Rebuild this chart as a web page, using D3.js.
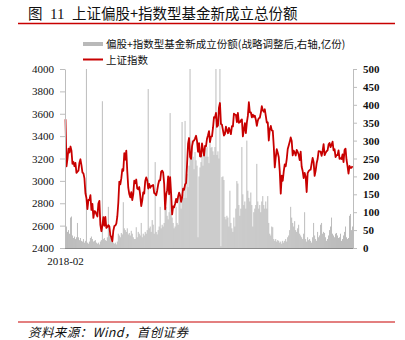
<!DOCTYPE html>
<html><head><meta charset="utf-8">
<script src="https://cdn.jsdelivr.net/npm/d3@7"></script>
<style>
html,body{margin:0;padding:0;background:#fff;}
svg{display:block;}
</style></head>
<body>
<svg id="c" width="405" height="340"></svg>
<script>
// ---- data ----
const startLabel = "2018-02";
const leftTicks = [2400, 2600, 2800, 3000, 3200, 3400, 3600, 3800, 4000];
const rightTicks = [0, 50, 100, 150, 200, 250, 300, 350, 400, 450, 500];
const seriesBarName = "偏股+指数型基金新成立份额(战略调整后,右轴,亿份)";
const seriesLineName = "上证指数";

const sh2018 = [3550,3130,3199,3289,3254,3307,3269,3152,3169,3131,3160,3071,3082,3091,3163,3193,3141,3075,3067,3022,2889,2847,2747,2831,2829,2873,2740,2795,2669,2729,2725,2702,2682,2797,2821,2606,2550,2598,2676,2599,2679,2579,2588,2605,2594,2516,2494];
const sh2019 = [2460,2554,2596,2601,2618,2682,2804,2994,2969,3022,3104,3091,3247,3189,3271,3086,2939,2882,2853,2899,2828,2882,3001,2979,3012,2931,2924,2945,2868,2774,2824,2898,2886,2999,3031,3006,2932,2973,2938,2954,2958,2964,2891,2885,2871,2912,2967,3004,3005];
const sh2020 = [3083,3092,3075,2976,2746,2876,2917,3039,2880,3034,2887,2700,2772,2764,2796,2838,2808,2860,2895,2868,2813,2852,2931,2920,2967,2980,3152,3332,3383,3214,3197,3310,3354,3360,3380,3403,3355,3260,3338,3219,3218,3336,3278,3225,3312,3310,3377,3408,3445,3347,3395,3397,3473];
const sh2021 = [3570,3566,3607,3483,3496,3655,3696,3509,3502,3453,3405,3418,3484,3451,3426,3474,3447,3418,3490,3487,3601,3592,3590,3525,3607,3519,3524,3540,3550,3397,3458,3517,3427,3522,3581,3703,3613,3613,3568,3592,3572,3583,3547,3491,3539,3560,3564,3608,3667,3632,3618,3640];
const sh2022 = [3580,3521,3522,3361,3462,3491,3451,3447,3309,3120,3212,3283,3252,3211,3087,2886,3047,3001,3084,3147,3131,3195,3285,3316,3349,3388,3356,3228,3270,3253,3227,3276,3258,3236,3186,3262,3126,3088,3024,3071,3038,2900,3070,3087,3097,3101,3156,3206,3167,3045,3089];
const sh2023 = [3157,3195,3265,3263,3261,3224,3267,3328,3230,3250,3265,3273,3327,3338,3301,3323,3350,3272,3283,3212,3230,3231,3273,3197,3202,3196,3237,3168,3276,3288,3189,3131,3064,3133,3116,3117,3132];

const fundShares = [
104,60,45,50,40,85,88,35,28,32,25,30,70,30,22,28,20,18,25,15,
20,500,15,12,18,28,32,25,18,20,22,15,12,15,10,18,22,410,25,28,
22,20,30,115,38,30,18,22,15,12,15,10,18,40,35,30,42,38,128,55,
50,45,55,38,42,35,48,40,30,25,25,58,30,45,40,35,70,30,40,35,
45,40,50,444,55,60,45,78,65,40,240,45,38,50,60,115,55,65,60,70,
110,115,90,80,100,377,95,85,70,55,60,115,70,65,150,130,110,352,150,140,
355,140,207,170,230,500,262,300,255,220,268,245,230,30,200,225,240,260,230,270,
282,255,282,255,237,296,280,282,270,260,282,500,260,270,250,500,5,198,200,190,
87,80,90,85,60,160,70,55,45,85,60,110,187,180,120,90,110,282,150,120,
130,110,300,160,140,130,155,120,60,100,110,120,235,130,110,120,100,130,145,120,
110,130,110,145,70,40,35,60,58,25,20,25,18,22,20,15,18,12,20,15,
20,25,18,30,35,50,115,85,70,60,75,50,45,55,65,40,35,30,25,40,
100,25,18,30,22,25,20,15,30,70,35,25,20,45,30,35,65,70,40,45,
42,30,20,25,35,50,60,85,40,35,30,40,42,35,28,30,40,20,25,35,
45,60,30,25,28,90,95,50,60];

const shIndex = [].concat(sh2018, sh2019, sh2020, sh2021, sh2022, sh2023);

// ---- chart ----
const svg = d3.select("#c");
const X0 = 65, X1 = 353, Y0 = 69, Y1 = 248;
const red = "#c80000";

const n = Math.max(shIndex.length, fundShares.length);
const x = d3.scaleBand().domain(d3.range(n)).range([X0, X1]).padding(0);
const yL = d3.scaleLinear().domain([2400, 4000]).range([Y1, Y0]);
const yR = d3.scaleLinear().domain([0, 500]).range([Y1, Y0]).clamp(true);

// title
const title = svg.append("text").attr("y", 19).attr("font-size", 14.5).attr("fill", "#111")
  .attr("font-family", "'Noto Sans CJK SC', sans-serif");
title.append("tspan").attr("x", 28).text("图");
title.append("tspan").attr("x", 50).attr("font-family", "'Liberation Serif', serif").attr("font-size", 15).text("11");
title.append("tspan").attr("x", 72).text("上证偏股+指数型基金新成立总份额");
svg.append("line").attr("x1", 18).attr("x2", 395).attr("y1", 23.5).attr("y2", 23.5)
  .attr("stroke", red).attr("stroke-width", 1.5);

// legend
svg.append("rect").attr("x", 83).attr("y", 42).attr("width", 20).attr("height", 4).attr("fill", "#b9b9b9");
svg.append("text").attr("x", 106).attr("y", 47.5).attr("font-size", 10.5).attr("fill", "#111")
  .attr("font-family", "'Noto Sans CJK SC', sans-serif").text(seriesBarName);
svg.append("line").attr("x1", 83).attr("x2", 103).attr("y1", 59.5).attr("y2", 59.5).attr("stroke", red).attr("stroke-width", 2);
svg.append("text").attr("x", 106).attr("y", 63.5).attr("font-size", 10.5).attr("fill", "#111")
  .attr("font-family", "'Noto Sans CJK SC', sans-serif").text(seriesLineName);

// bars
svg.append("g").selectAll("rect").data(fundShares).join("rect")
  .attr("x", (d, i) => x(i))
  .attr("width", x.bandwidth() * 0.95)
  .attr("y", d => yR(d))
  .attr("height", d => Y1 - yR(d))
  .attr("fill", "#b9b9b9");

// line
const line = d3.line().x((d, i) => x(i) + x.bandwidth() / 2).y(d => yL(d));
svg.append("path").datum(shIndex).attr("d", line).attr("fill", "none")
  .attr("stroke", red).attr("stroke-width", 1.8).attr("stroke-linejoin", "round");

// axes
const axL = svg.append("g").attr("transform", `translate(${X0},0)`)
  .call(d3.axisLeft(yL).tickValues(leftTicks).tickSize(5).tickSizeOuter(0).tickPadding(6).tickFormat(d3.format("d")));
axL.selectAll("text").attr("font-family", "'Liberation Serif', serif").attr("font-size", 11).attr("fill", "#111");
axL.selectAll("line").attr("stroke", "#bdbdbd");
axL.select(".domain").attr("stroke", "#bdbdbd");

const axR = svg.append("g").attr("transform", `translate(${X1},0)`)
  .call(d3.axisRight(yR).tickValues(rightTicks).tickSize(4).tickSizeOuter(0).tickPadding(6).tickFormat(d3.format("d")));
axR.selectAll("text").attr("font-family", "'Liberation Serif', serif").attr("font-size", 11).attr("font-weight", "bold").attr("fill", "#111");
axR.selectAll("line").attr("stroke", "#bdbdbd");
axR.select(".domain").attr("stroke", "#bdbdbd");

svg.append("line").attr("x1", X0).attr("x2", X1).attr("y1", Y1 + 0.5).attr("y2", Y1 + 0.5)
  .attr("stroke", "#8c8c8c").attr("stroke-width", 1);

svg.append("text").attr("x", X0 + 0.5).attr("y", 264.5).attr("text-anchor", "middle")
  .attr("font-family", "'Liberation Serif', serif").attr("font-size", 11).attr("fill", "#111").text(startLabel);

// source
svg.append("line").attr("x1", 18).attr("x2", 395).attr("y1", 322).attr("y2", 322)
  .attr("stroke", red).attr("stroke-width", 1.2);
svg.append("text").attr("x", 28).attr("y", 337).attr("font-size", 12.5).attr("font-style", "italic").attr("fill", "#111")
  .attr("letter-spacing", 0.4)
  .attr("font-family", "'Noto Sans CJK SC', sans-serif").text("资料来源：Wind，首创证券");
</script>
</body></html>
